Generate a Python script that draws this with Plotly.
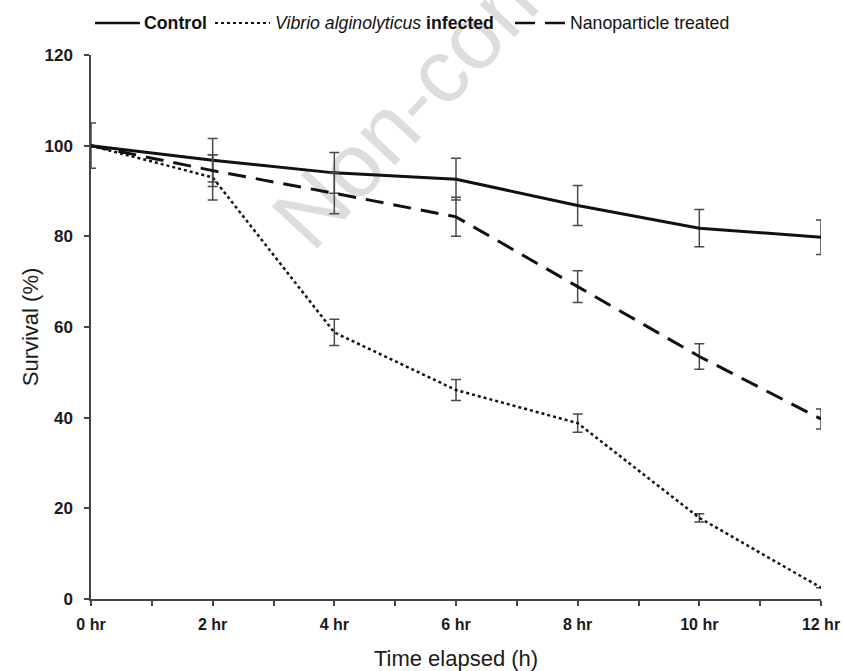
import plotly.graph_objects as go

hours = [0, 2, 4, 6, 8, 10, 12]
tick_vals = list(range(0, 13))
tick_text = ["0 hr", "", "2 hr", "", "4 hr", "", "6 hr", "", "8 hr", "", "10 hr", "", "12 hr"]

control = [100, 96.8, 94.0, 92.6, 86.8, 81.8, 79.8]
control_err = [5.0, 4.8, 4.5, 4.6, 4.4, 4.1, 3.8]

infected = [100, 93.0, 58.8, 46.1, 38.8, 17.9, 2.5]
infected_err = [0, 5.0, 2.9, 2.3, 2.0, 0.9, 0]

nano = [100, 94.5, 89.5, 84.3, 68.9, 53.5, 39.7]
nano_err = [0, 3.5, 4.5, 4.3, 3.5, 2.8, 2.2]

legend_labels = ["<b>Control</b>",
                 "<i>Vibrio alginolyticus</i> <b>infected</b>",
                 "Nanoparticle treated"]

FONT = "Liberation Sans, Arial, sans-serif"
ERR = dict(type="data", visible=True, color="#4a4a4a", thickness=1.5, width=5)
DASHES = ["solid", "dot", "18px,10px"]
WIDTHS = [3, 2.5, 3]

fig = go.Figure()
for ys, errs, lab, dsh, w in zip([control, infected, nano],
                                 [control_err, infected_err, nano_err],
                                 legend_labels, DASHES, WIDTHS):
    fig.add_trace(go.Scatter(
        x=hours, y=ys, mode="lines", name=lab, showlegend=False,
        line=dict(color="#111111", width=w, dash=dsh),
        error_y=dict(array=errs, **ERR), cliponaxis=False,
    ))

# faint watermark behind the data
fig.add_shape(
    type="line", xref="paper", yref="paper",
    x0=0.6055, y0=1.0368, x1=0.7918, y1=1.3051,
    line=dict(width=0), layer="below",
    label=dict(text="Non-commercial use", textposition="middle", textangle=-47,
               font=dict(family=FONT, size=90, color="#dddddd")),
)

# legend drawn manually (line sample + label) across the top
LEG_Y = 1.0588
leg_lines = [(0.0055, 0.0671, "solid", 2.5), (0.1699, 0.2452, "dot", 2), (0.5808, 0.6493, "20px,10px", 2.5)]
leg_text_x = [0.0699, 0.2493, 0.6534]
for (x0, x1, dsh, w), tx, lab in zip(leg_lines, leg_text_x, legend_labels):
    fig.add_shape(type="line", xref="paper", yref="paper", x0=x0, x1=x1, y0=LEG_Y, y1=LEG_Y,
                  line=dict(color="#111111", width=w, dash=dsh))
    fig.add_annotation(xref="paper", yref="paper", x=tx, y=LEG_Y, xanchor="left", yanchor="middle",
                       text=lab, showarrow=False,
                       font=dict(family=FONT, size=17.7, color="#111111"))

fig.update_layout(
    width=843, height=671,
    margin=dict(l=91, r=22, t=55, b=72, autoexpand=False),
    paper_bgcolor="white", plot_bgcolor="white",
    font=dict(family=FONT, color="#1a1a1a"),
    showlegend=False,
    xaxis=dict(
        range=[0, 12], tickmode="array", tickvals=tick_vals, ticktext=tick_text,
        showgrid=False, zeroline=False, showline=True, linecolor="#444444", linewidth=1.5,
        ticks="outside", ticklen=5, tickcolor="#444444", tickwidth=1.5,
        tickfont=dict(family=FONT, size=16, color="#1a1a1a", weight="bold"),
        ticklabelstandoff=5, automargin=False,
        title=dict(text="Time elapsed (h)", font=dict(family=FONT, size=22, color="#1a1a1a"), standoff=20),
    ),
    yaxis=dict(
        range=[0, 120], tickmode="array", tickvals=[0, 20, 40, 60, 80, 100, 120],
        showgrid=False, zeroline=False, showline=True, linecolor="#444444", linewidth=1.5,
        ticks="outside", ticklen=5, tickcolor="#444444", tickwidth=1.5,
        tickfont=dict(family=FONT, size=17, color="#1a1a1a", weight="bold"),
        ticklabelstandoff=8, automargin=False,
        title=dict(text="Survival (%)", font=dict(family=FONT, size=22, color="#1a1a1a"), standoff=0),
    ),
)

fig.write_html("out.html")
